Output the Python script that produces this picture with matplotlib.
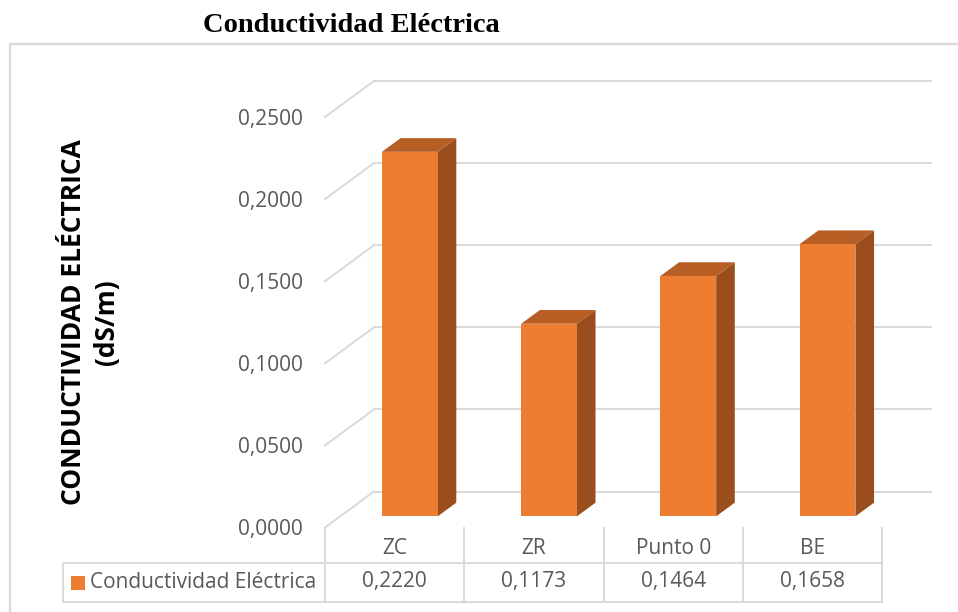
import matplotlib.pyplot as plt
from matplotlib.patches import Polygon, Rectangle
from matplotlib.transforms import blended_transform_factory

# datos
categorias = ["ZC", "ZR", "Punto 0", "BE"]
valores = [0.2220, 0.1173, 0.1464, 0.1658]
serie = "Conductividad Eléctrica"
ticks = [0.0, 0.05, 0.10, 0.15, 0.20, 0.25]


def coma(v, dec=4):
    return f"{v:.{dec}f}".replace(".", ",")


W, H = 958, 612
naranja = "#ED7D31"
lateral = "#9A4E1D"
tapa = "#B65E24"
gris = "#D9D9D9"
texto = "#595959"
fuente = "Open Sans"

fig = plt.figure(figsize=(W / 100, H / 100), dpi=100)

# capa de fondo en pixeles: marco y tabla
fondo = fig.add_axes([0, 0, 1, 1])
fondo.set_xlim(0, W)
fondo.set_ylim(H, 0)
fondo.axis("off")

ax = fig.add_axes([325 / W, (H - 527.5) / H, 557 / W, 410.5 / H])
ax.set_xlim(-0.5, len(categorias) - 0.5)
ax.set_ylim(0, 0.25)
for s in ax.spines.values():
    s.set_visible(False)
ax.set_xticks([])
ax.set_yticks(ticks)
ax.set_yticklabels([coma(t) for t in ticks], fontfamily=fuente, fontsize=15, color=texto)
ax.tick_params(axis="y", length=0, pad=16)
ax.patch.set_alpha(0)

# profundidad del efecto 3D en unidades de datos
dx = 49 * len(categorias) / 557
dy = 36 * 0.25 / 410.5
a, b = 0.31, 0.69
ancho = 0.40

# rejilla en la pared del fondo
x_izq, x_der = -0.5, len(categorias) - 0.5
for t in ticks:
    ax.plot([x_izq + dx, x_der + dx], [t + dy, t + dy], color=gris, lw=1.4,
            clip_on=False, zorder=1)
    ax.plot([x_izq, x_izq + dx], [t, t + dy], color=gris, lw=1.4,
            clip_on=False, zorder=1)

# barras
for i, v in enumerate(valores):
    x0, x1 = i - ancho / 2, i + ancho / 2
    frente = [(x0 + a * dx, a * dy), (x1 + a * dx, a * dy),
              (x1 + a * dx, v + a * dy), (x0 + a * dx, v + a * dy)]
    lado = [(x1 + a * dx, a * dy), (x1 + b * dx, b * dy),
            (x1 + b * dx, v + b * dy), (x1 + a * dx, v + a * dy)]
    arriba = [(x0 + a * dx, v + a * dy), (x1 + a * dx, v + a * dy),
              (x1 + b * dx, v + b * dy), (x0 + b * dx, v + b * dy)]
    for pts, c in ((lado, lateral), (arriba, tapa), (frente, naranja)):
        ax.add_patch(Polygon(pts, closed=True, facecolor=c, edgecolor="none",
                             clip_on=False, zorder=3))

# marco del grafico
fondo.plot([10, 10, W], [H, 44, 44], color=gris, lw=1.6)

# tabla de datos
mixto = blended_transform_factory(ax.transData, fondo.transData)
y_top, y_mid, y_bot = 527.5, 563, 602
for k in range(len(categorias) + 1):
    fondo.plot([k - 0.5, k - 0.5], [y_top, y_bot], color=gris, lw=1.4,
               transform=mixto)
for y in (y_mid, y_bot):
    fondo.plot([x_izq, x_der], [y, y], color=gris, lw=1.4, transform=mixto)
fondo.plot([325, 63, 63, 325], [y_mid, y_mid, y_bot, y_bot], color=gris, lw=1.4)

for i, (cat, v) in enumerate(zip(categorias, valores)):
    fondo.text(i, 549, cat, transform=mixto, ha="center", va="center",
               fontfamily=fuente, fontsize=15, color=texto)
    fondo.text(i, 582, coma(v), transform=mixto, ha="center", va="center",
               fontfamily=fuente, fontsize=15, color=texto)

fondo.add_patch(Rectangle((71, 576), 14, 14, facecolor=naranja, edgecolor="none"))
fondo.text(90, 582, serie, ha="left", va="center", fontfamily=fuente,
           fontsize=15, color=texto)

# titulos
fondo.text(351, 25, "Conductividad Eléctrica", ha="center", va="center",
           fontfamily="Liberation Serif", fontweight="bold", fontsize=20.5,
           color="black")
fondo.text(90, 322, "CONDUCTIVIDAD ELÉCTRICA\n(dS/m)", ha="center", va="center",
           rotation=90, multialignment="center", fontfamily=fuente,
           fontweight="bold", fontsize=19, color="black", linespacing=1.25)

fig.savefig("out.png", dpi=100)
